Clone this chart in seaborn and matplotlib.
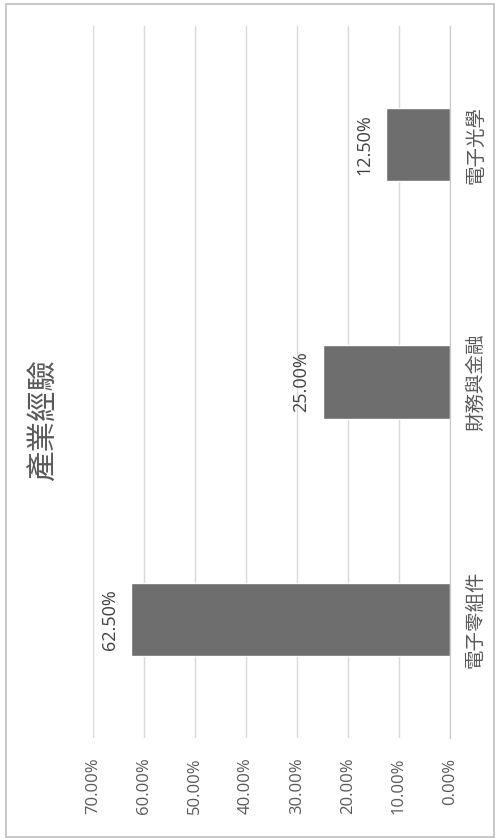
import matplotlib
matplotlib.use("Agg")
import matplotlib.pyplot as plt
import seaborn as sns
from matplotlib.patches import Rectangle
from matplotlib.ticker import PercentFormatter

# data
categories = ['電子零組件', '財務與金融', '電子光學']
shares = [0.625, 0.25, 0.125]
share_labels = ['62.50%', '25.00%', '12.50%']
title = '產業經驗'

sns.set_style('white')
plt.rcParams['font.family'] = ['Open Sans', 'Noto Sans CJK TC', 'DejaVu Sans']

W, H = 501, 839
fig = plt.figure(figsize=(W / 100, H / 100), dpi=100)
ax = fig.add_axes([93 / W, 1 - 738 / H, (450 - 93) / W, (738 - 26) / H])

sns.barplot(x=shares, y=categories, orient='h', color='#6e6e6e',
            width=0.31, ax=ax, saturation=1)

# chart is drawn turned on its side: 0% on the right, first category at bottom
ax.set_xlim(0.7, 0)
ax.set_ylim(-0.5, 2.5)

ax.xaxis.set_major_formatter(PercentFormatter(1.0, decimals=2))
ax.set_xticks([0.0, 0.1, 0.2, 0.3, 0.4, 0.5, 0.6, 0.7])
ax.grid(axis='x', color='#d9d9d9', linewidth=1)
ax.grid(axis='y', visible=False)
for side in ['left', 'top', 'bottom']:
    ax.spines[side].set_visible(False)
ax.spines['right'].set_color('#c8c8c8')

ax.yaxis.tick_right()
ax.tick_params(axis='y', length=0, pad=12, labelsize=14, labelcolor='#595959')
ax.tick_params(axis='x', length=0, pad=14, labelsize=12, labelcolor='#595959')
for lab in ax.get_yticklabels():
    lab.set_rotation(90)
    lab.set_va('center')
for lab in ax.get_xticklabels():
    lab.set_rotation(90)
    lab.set_ha('center')
ax.set_xlabel('')
ax.set_ylabel('')

ax.bar_label(ax.containers[0], labels=share_labels, rotation=90,
             padding=9, fontsize=13, color='#404040')

fig.text(45 / W, 1 - 420 / H, title, rotation=90, ha='center', va='center',
         fontsize=22, color='#595959')

fig.patches.append(Rectangle((6 / W, 2 / H), (494 - 6) / W, (835 - 2) / H,
                             transform=fig.transFigure, fill=False,
                             edgecolor='#bfbfbf', linewidth=1.2))

fig.savefig('out.png', dpi=100)
